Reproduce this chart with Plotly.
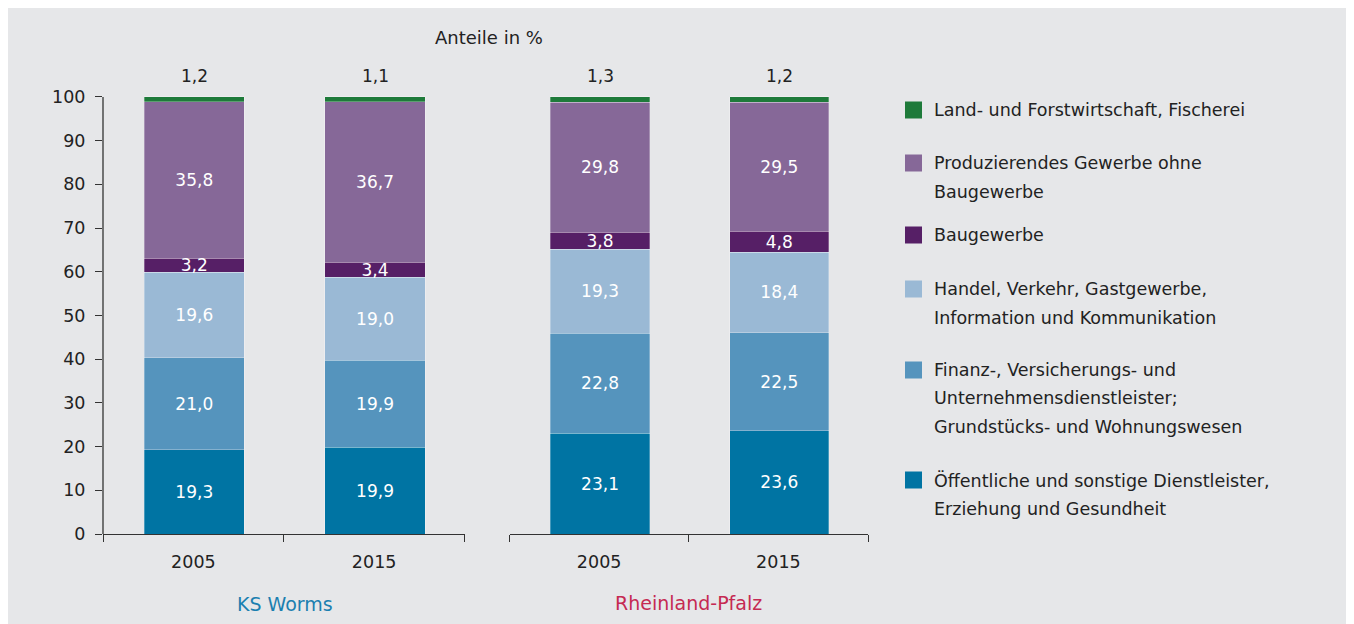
import plotly.graph_objects as go

# ---------------- data ----------------
years = ["2005", "2015"]
regions = ["KS Worms", "Rheinland-Pfalz"]

sector_names = [
    "Öffentliche und sonstige Dienstleister, Erziehung und Gesundheit",
    "Finanz-, Versicherungs- und Unternehmensdienstleister; Grundstücks- und Wohnungswesen",
    "Handel, Verkehr, Gastgewerbe, Information und Kommunikation",
    "Baugewerbe",
    "Produzierendes Gewerbe ohne Baugewerbe",
    "Land- und Forstwirtschaft, Fischerei",
]
legend_lines = [
    ["Öffentliche und sonstige Dienstleister,", "Erziehung und Gesundheit"],
    ["Finanz-, Versicherungs- und", "Unternehmensdienstleister;", "Grundstücks- und Wohnungswesen"],
    ["Handel, Verkehr, Gastgewerbe,", "Information und Kommunikation"],
    ["Baugewerbe"],
    ["Produzierendes Gewerbe ohne", "Baugewerbe"],
    ["Land- und Forstwirtschaft, Fischerei"],
]
colors = ["#0074a3", "#5594bd", "#9ab9d5", "#561f66", "#866898", "#1e7a3a"]

# values per sector (bottom -> top), per year
worms_oeff = [19.3, 19.9]
worms_fin = [21.0, 19.9]
worms_handel = [19.6, 19.0]
worms_bau = [3.2, 3.4]
worms_prod = [35.8, 36.7]
worms_land = [1.2, 1.1]

rlp_oeff = [23.1, 23.6]
rlp_fin = [22.8, 22.5]
rlp_handel = [19.3, 18.4]
rlp_bau = [3.8, 4.8]
rlp_prod = [29.8, 29.5]
rlp_land = [1.3, 1.2]

y_ticks = [0, 10, 20, 30, 40, 50, 60, 70, 80, 90, 100]

series = {
    "KS Worms": [worms_oeff, worms_fin, worms_handel, worms_bau, worms_prod, worms_land],
    "Rheinland-Pfalz": [rlp_oeff, rlp_fin, rlp_handel, rlp_bau, rlp_prod, rlp_land],
}

# ---------------- geometry (figure pixels; page adds 8px body margin) ----------------
OFF = 8
FIG_W, FIG_H = 1354, 624
L = 103 - OFF
PLOT_RIGHT = 868.5 - OFF
R = int(round(FIG_W - PLOT_RIGHT))
T = 93 - OFF
BOTTOM = 534 - OFF
B = FIG_H - BOTTOM
PW = FIG_W - L - R
PH = FIG_H - T - B


def px(xs):  # screen x -> paper
    return (xs - OFF - L) / PW


def py(ys):  # screen y -> paper
    return (BOTTOM - (ys - OFF)) / PH


def fmt(v):
    return f"{v:.1f}".replace(".", ",")


FONT = "DejaVu Sans"
TXT = "#222222"
BG = "#e6e7e9"

fig = go.Figure()

axes = [("x", "y"), ("x2", "y")]
for (xa, ya), region in zip(axes, regions):
    vals = series[region]
    for i, (name, col, v) in enumerate(zip(sector_names, colors, vals)):
        top = i == len(vals) - 1
        fig.add_trace(go.Bar(
            x=years, y=v, name=name, xaxis=xa, yaxis=ya,
            marker=dict(color=col, line=dict(color="rgba(255,255,255,0.35)", width=0.8)),
            width=0.554, offset=-0.272,
            text=None if top else [fmt(a) for a in v],
            textposition="inside",
            insidetextanchor="middle",
            textangle=0,
            constraintext="none",
            textfont=dict(family=FONT, size=17, color="white"),
            showlegend=False,
            hoverinfo="skip",
        ))
    # top labels (green segment values) above the stacks
    totals = [sum(s[k] for s in vals) for k in range(len(years))]
    for k in range(len(years)):
        fig.add_annotation(
            x=k, y=totals[k], xref=xa, yref=ya, text=fmt(vals[-1][k]),
            showarrow=False, xanchor="center", yanchor="bottom", yshift=9, xshift=1,
            font=dict(family=FONT, size=17, color=TXT),
        )

xaxis_common = dict(
    type="category", range=[-0.5, 1.5], showline=True, linecolor="#333333", linewidth=1.3,
    ticks="outside", tickson="boundaries", ticklen=7, tickcolor="#333333", tickwidth=1.3,
    showgrid=False, zeroline=False, ticklabelstandoff=12,
    tickfont=dict(family=FONT, size=17.5, color=TXT),
)
fig.update_layout(
    barmode="stack",
    width=FIG_W, height=FIG_H,
    margin=dict(l=L, r=R, t=T, b=B),
    paper_bgcolor=BG,
    plot_bgcolor=BG,
    separators=",.",
    xaxis=dict(domain=[0, px(464.5)], **xaxis_common),
    xaxis2=dict(domain=[px(509.5), 1], anchor="y", **xaxis_common),
    yaxis=dict(range=[0, 100.9], tickvals=y_ticks, ticks="outside", ticklen=7,
               tickcolor="#333333", tickwidth=1.3, showline=False, showgrid=False,
               zeroline=False, ticklabelstandoff=6,
               tickfont=dict(family=FONT, size=17.5, color=TXT)),
    showlegend=False,
    font=dict(family=FONT, size=17, color=TXT),
)

# y axis line from 0 to 100
fig.add_shape(type="line", xref="paper", yref="y", x0=0, x1=0, y0=0, y1=y_ticks[-1],
              line=dict(color="#333333", width=1.3))

# title
fig.add_annotation(text="Anteile in %", x=px(488.5), y=py(38), xref="paper", yref="paper",
                   xanchor="center", yanchor="middle",
                   showarrow=False, font=dict(family=FONT, size=18, color=TXT))
# group labels
fig.add_annotation(text=regions[0], x=px(285), y=py(604), xref="paper", yref="paper",
                   xanchor="center", yanchor="middle",
                   showarrow=False, font=dict(family=FONT, size=19, color="#1b7fb0"))
fig.add_annotation(text=regions[1], x=px(688), y=py(603), xref="paper", yref="paper",
                   xanchor="center", yanchor="middle",
                   showarrow=False, font=dict(family=FONT, size=19, color="#c52a52"))

# manual legend (top item = last sector)
first_line_y = [480, 370, 289, 235, 163, 110]
LINE_H = 28.5
for lines, col, y0 in zip(legend_lines, colors, first_line_y):
    fig.add_shape(type="rect", xref="paper", yref="paper",
                  x0=px(905), x1=px(922), y0=py(y0 + 8.5), y1=py(y0 - 8.5),
                  fillcolor=col, line=dict(width=0))
    for j, ln in enumerate(lines):
        fig.add_annotation(text=ln, x=px(932), y=py(y0 + j * LINE_H), xref="paper", yref="paper",
                           xanchor="left", yanchor="middle", showarrow=False,
                           font=dict(family=FONT, size=17.5, color=TXT))

fig.write_html("out.html")
